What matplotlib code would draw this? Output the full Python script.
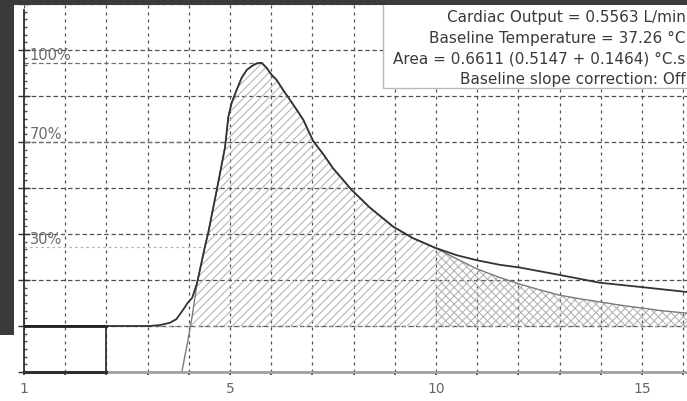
import numpy as np
import matplotlib
matplotlib.use("Agg")
import matplotlib.pyplot as plt
from matplotlib.patches import Rectangle
from matplotlib.ticker import MultipleLocator, FixedLocator

# ---------------- data ----------------
# measured thermodilution curve (time s, signal units)
meas_x = [0.0, 1.0, 2.0, 2.5, 3.06, 3.3, 3.54, 3.7, 3.86, 3.97, 4.08, 4.20,
          4.27, 4.39, 4.47, 4.68, 4.88, 4.96, 5.04, 5.16, 5.28, 5.41, 5.53,
          5.65, 5.77, 5.89, 6.01, 6.13, 6.29, 6.46, 6.62, 6.78, 7.02, 7.26,
          7.50, 7.75, 7.95, 8.40, 8.96, 9.44, 9.98, 10.5, 10.99, 11.55, 12.04,
          13.0, 13.98, 14.95, 16.09]
meas_y = [1.0, 1.0, 1.0, 1.0, 1.0, 1.02, 1.07, 1.15, 1.35, 1.50, 1.61, 1.93,
          2.22, 2.72, 3.02, 3.96, 4.89, 5.55, 5.85, 6.13, 6.39, 6.57, 6.65,
          6.71, 6.72, 6.61, 6.46, 6.35, 6.13, 5.91, 5.70, 5.48, 5.02, 4.74,
          4.43, 4.17, 3.96, 3.57, 3.16, 2.91, 2.70, 2.54, 2.43, 2.33, 2.27,
          2.11, 1.94, 1.85, 1.74]

# fitted / extrapolated curve
fit_x = [3.83, 3.96, 4.08, 4.20, 4.27, 4.39, 4.47, 4.68, 4.88, 4.96, 5.04,
         5.16, 5.28, 5.41, 5.53, 5.65, 5.77, 5.89, 6.01, 6.13, 6.29, 6.46,
         6.62, 6.78, 7.02, 7.26, 7.50, 7.75, 7.95, 8.40, 8.96, 9.44, 9.98,
         10.5, 11.0, 11.5, 12.0, 12.5, 13.0, 13.5, 14.0, 14.5, 15.0, 15.5, 16.09]
fit_y = [0.0, 0.6, 1.2, 1.93, 2.22, 2.72, 3.02, 3.96, 4.89, 5.55, 5.85,
         6.13, 6.39, 6.57, 6.65, 6.71, 6.72, 6.61, 6.46, 6.35, 6.13, 5.91,
         5.70, 5.48, 5.02, 4.74, 4.43, 4.17, 3.96, 3.57, 3.16, 2.91, 2.70,
         2.46, 2.24, 2.07, 1.92, 1.79, 1.67, 1.59, 1.52, 1.45, 1.39, 1.33, 1.28]

baseline = 1.0
baseline_window = 2.0
split_x = 9.98
pct_levels = [100, 70, 30]
pct_labels = ["100%", "70%", "30%"]

xtick_pos = [0, 5, 10, 15]
xtick_labels = ["1", "5", "10", "15"]

info_lines = ["Cardiac Output = 0.5563 L/min",
              "Baseline Temperature = 37.26 \u00b0C",
              "Area = 0.6611 (0.5147 + 0.1464) \u00b0C.s",
              "Baseline slope correction: Off"]

# ---------------- figure ----------------
W, H = 687, 401
fig = plt.figure(figsize=(W / 100, H / 100), dpi=100, facecolor="white")
plt.rcParams["hatch.linewidth"] = 0.75

ax_l, ax_b = 24, 29          # pixel offsets of the plot origin
px_x, px_y = 41.2, 46.0      # pixels per unit
ax = fig.add_axes([ax_l / W, ax_b / H, (W - ax_l) / W, (H - ax_b) / H])
ax.set_xlim(0, (W - ax_l) / px_x)
ax.set_ylim(0, (H - ax_b) / px_y)
ax.set_facecolor("white")

for s in ["top", "right"]:
    ax.spines[s].set_visible(False)
ax.spines["left"].set_color("#303030")
ax.spines["left"].set_linewidth(1.3)
ax.spines["left"].set_bounds(0, (H - ax_b - 10) / px_y)
ax.spines["bottom"].set_color("#a0a0a0")
ax.spines["bottom"].set_linewidth(2.0)

# ticks
ax.xaxis.set_major_locator(FixedLocator(xtick_pos))
ax.set_xticklabels(xtick_labels)
ax.xaxis.set_minor_locator(MultipleLocator(1))
ax.tick_params(axis="x", which="both", direction="out", length=2.5, width=1.2,
               color="#303030", labelsize=10, labelcolor="#666666", pad=5)
ax.yaxis.set_major_locator(MultipleLocator(1))
ax.yaxis.set_minor_locator(MultipleLocator(1 / 6))
ax.set_yticklabels([])
ax.tick_params(axis="y", which="major", direction="inout", length=9, width=1.0,
               color="#303030")
ax.tick_params(axis="y", which="minor", direction="in", length=2.5, width=1.0,
               color="#505050")

# grid
ax.grid(axis="x", which="both", color="#505050", linewidth=0.9,
        linestyle=(0, (2.4, 3.2)), zorder=1)
ax.grid(axis="y", which="major", color="#505050", linewidth=0.9,
        linestyle=(0, (3.6, 2.2)), zorder=1)
ax.set_axisbelow(True)

mx = np.array(meas_x); my = np.array(meas_y)
fx = np.array(fit_x); fy = np.array(fit_y)

# hatched areas
m1 = fx <= split_x
ax.fill_between(fx[m1], baseline, fy[m1], where=fy[m1] >= baseline, interpolate=True,
                facecolor="none", edgecolor="#b2b2b2", hatch="////", linewidth=0, zorder=1.5)
m2 = fx >= split_x
ax.fill_between(fx[m2], baseline, fy[m2], facecolor="none", edgecolor="#b2b2b2",
                hatch="xxxx", linewidth=0, zorder=1.5)

# baseline dotted line
ax.plot([baseline_window, ax.get_xlim()[1]], [baseline, baseline], color="#a0a0a0",
        linestyle=(0, (1.5, 2.0)), linewidth=1.0, zorder=1.6)

# percent levels
peak = my.max()
peak_x = mx[np.argmax(my)]
rise = (mx <= peak_x) & (mx >= 3.0)
for p, lab in zip(pct_levels, pct_labels):
    lvl = baseline + p / 100 * (peak - baseline)
    xend = np.interp(lvl, my[rise], mx[rise])
    if p == 30:
        ls, col = (0, (2.0, 2.5)), "#b0b0b0"
    else:
        ls, col = (0, (3.6, 2.2)), "#707070"
    ax.plot([0, xend], [lvl, lvl], color=col, linestyle=ls, linewidth=0.9, zorder=1.7)
    ax.text(0.14, lvl + 0.065, lab, fontsize=10.5, color="#6a6a6a",
            ha="left", va="baseline", zorder=4)

# curves
ax.plot(fx, fy, color="#7a7a7a", linewidth=1.0, zorder=2.5)
ax.plot(mx, my, color="#333333", linewidth=1.3, zorder=3)

# baseline window box
ax.plot([0, baseline_window], [baseline, baseline], color="#202020", linewidth=2.0, zorder=3.2)
ax.plot([baseline_window, baseline_window], [0, baseline], color="#303030", linewidth=1.3, zorder=3.2)
ax.plot([0, baseline_window], [0, 0], color="#303030", linewidth=2.2, zorder=3.2,
        clip_on=False)

# info box
bx0, by1 = 383, 88
fig.add_artist(Rectangle((bx0 / W, 1 - by1 / H), 1.0, by1 / H, transform=fig.transFigure,
                         facecolor="white", edgecolor="#b8b8b8", linewidth=1.0, zorder=2))
baselines_px = [22, 43, 63.5, 84]
for txt, yb in zip(info_lines, baselines_px):
    fig.text(685.5 / W, 1 - yb / H, txt, ha="right", va="baseline", fontsize=11,
             color="#3a3a3a", zorder=3)

# dark screenshot frame
frame = "#3b3b3b"
fig.add_artist(Rectangle((0, 1 - 5 / H), 1, 5 / H, transform=fig.transFigure,
                         facecolor=frame, edgecolor="none", zorder=5))
fig.add_artist(Rectangle((0, 1 - 335 / H), 14 / W, 335 / H, transform=fig.transFigure,
                         facecolor=frame, edgecolor="none", zorder=5))

fig.savefig("out.png", dpi=100, facecolor="white")
